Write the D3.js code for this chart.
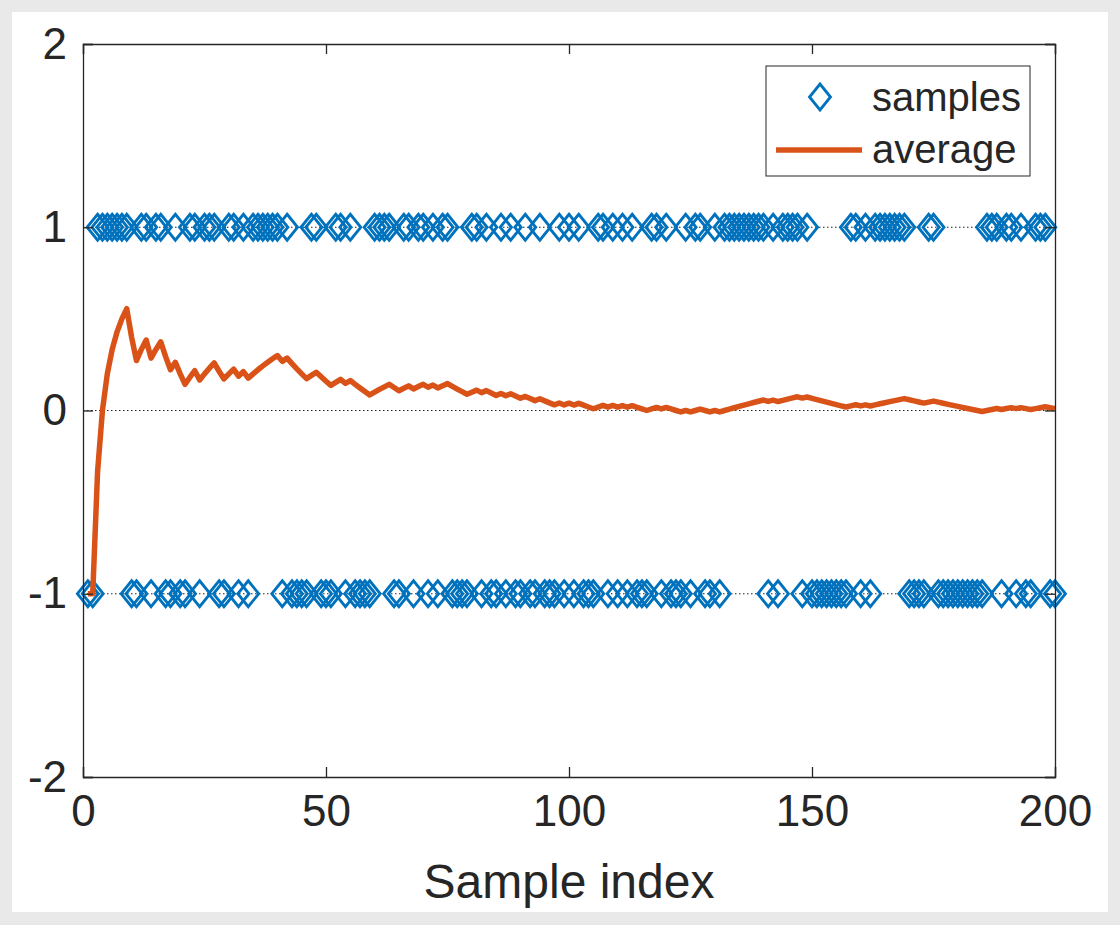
<html>
<head>
<script src="https://d3js.org/d3.v7.min.js"></script>
<style>
body { margin: 0; background: #e9e9e9; }
text { font-family: "Liberation Sans", Arial, sans-serif; fill: #262626; }
</style>
</head>
<body>
<svg width="1120" height="925"></svg>
<script>
// sample value (+1 / -1) for index 1..200
var samples = [
  -1,-1, 1, 1, 1, 1, 1, 1, 1,-1,   -1, 1, 1,-1, 1, 1,-1,-1, 1,-1,
  -1, 1, 1,-1, 1, 1, 1,-1,-1, 1,    1,-1, 1,-1, 1, 1, 1, 1, 1, 1,
  -1, 1,-1,-1,-1,-1, 1, 1,-1,-1,   -1, 1, 1,-1, 1,-1,-1,-1,-1, 1,
   1, 1, 1,-1,-1, 1, 1,-1, 1, 1,   -1, 1,-1, 1, 1,-1,-1,-1,-1, 1,
   1,-1, 1,-1,-1, 1,-1, 1,-1,-1,    1,-1,-1, 1,-1,-1,-1, 1,-1, 1,
  -1, 1,-1,-1,-1, 1, 1,-1, 1,-1,    1,-1, 1,-1,-1,-1, 1, 1,-1, 1,
  -1,-1,-1, 1,-1, 1, 1,-1,-1, 1,   -1, 1, 1, 1, 1, 1, 1, 1, 1, 1,
  -1, 1,-1, 1, 1, 1, 1,-1, 1,-1,   -1,-1,-1,-1,-1,-1,-1, 1, 1,-1,
   1,-1, 1, 1, 1, 1, 1, 1, 1,-1,   -1,-1,-1, 1, 1,-1,-1,-1,-1,-1,
  -1,-1,-1,-1,-1, 1, 1, 1,-1, 1,    1,-1, 1,-1,-1, 1, 1, 1,-1,-1
];
var xTicks = [0, 50, 100, 150, 200];
var yTicks = [-2, -1, 0, 1, 2];
var refLines = [-1, 0, 1];
var seriesNames = ["samples", "average"];

var blue = "#0072BD", orange = "#D95319", ink = "#262626";

var svg = d3.select("svg");
svg.append("rect").attr("x", 12).attr("y", 12).attr("width", 1096).attr("height", 900).attr("fill", "white");

var pLeft = 83, pRight = 1055, pTop = 44, pBottom = 777;
var x = d3.scaleLinear().domain([0, 200]).range([pLeft, pRight]);
var y = d3.scaleLinear().domain([-2, 2]).range([pBottom, pTop]);

// running mean of the samples
var sum = 0;
var pts = samples.map(function (s, i) { sum += s; return {i: i + 1, s: s, avg: sum / (i + 1)}; });

// dotted reference lines
svg.append("g").selectAll("line").data(refLines).enter().append("line")
  .attr("x1", pLeft).attr("x2", pRight)
  .attr("y1", function (d) { return y(d); }).attr("y2", function (d) { return y(d); })
  .attr("stroke", "#222").attr("stroke-width", 1).attr("stroke-dasharray", "1.5,2.5");

var diamond = function (cx, cy) {
  return "M" + cx + "," + (cy - 13) + "L" + (cx + 10.5) + "," + cy + "L" + cx + "," + (cy + 13) + "L" + (cx - 10.5) + "," + cy + "Z";
};

svg.append("g").selectAll("path").data(pts).enter().append("path")
  .attr("d", function (d) { return diamond(x(d.i), y(d.s)); })
  .attr("fill", "none").attr("stroke", blue).attr("stroke-width", 2.8);

var line = d3.line().x(function (d) { return x(d.i); }).y(function (d) { return y(d.avg); });
svg.append("path").datum(pts).attr("d", line)
  .attr("fill", "none").attr("stroke", orange).attr("stroke-width", 5.5).attr("stroke-linejoin", "round");

// axes box with inward ticks on all four sides
var tl = 10;
svg.append("g").attr("transform", "translate(0," + pBottom + ")")
  .call(d3.axisBottom(x).tickValues(xTicks).tickSize(-tl).tickPadding(18).tickFormat(d3.format("d")));
svg.append("g").attr("transform", "translate(0," + pTop + ")")
  .call(d3.axisTop(x).tickValues(xTicks).tickSize(-tl).tickFormat(""));
var yAxis = svg.append("g").attr("transform", "translate(" + pLeft + ",0)")
  .call(d3.axisLeft(y).tickValues(yTicks).tickSize(-tl).tickPadding(16).tickFormat(function (d) { return d < 0 ? "-" + Math.abs(d) : d; }));
svg.append("g").attr("transform", "translate(" + pRight + ",0)")
  .call(d3.axisRight(y).tickValues(yTicks).tickSize(-tl).tickFormat(""));
svg.selectAll(".domain").attr("stroke", ink).attr("stroke-width", 1.3);
svg.selectAll(".tick line").attr("stroke", ink).attr("stroke-width", 1.3);
svg.selectAll(".tick text").style("font-size", "44px").attr("fill", ink);

svg.append("text").attr("x", (pLeft + pRight) / 2).attr("y", 898)
  .attr("text-anchor", "middle").style("font-size", "48px").text("Sample index");

// legend
var lg = svg.append("g");
lg.append("rect").attr("x", 766).attr("y", 66).attr("width", 264).attr("height", 110)
  .attr("fill", "white").attr("stroke", ink).attr("stroke-width", 1);
lg.append("path").attr("d", diamond(820, 97)).attr("fill", "none").attr("stroke", blue).attr("stroke-width", 2.8);
lg.append("line").attr("x1", 776).attr("x2", 862).attr("y1", 150).attr("y2", 150)
  .attr("stroke", orange).attr("stroke-width", 5.5);
lg.selectAll("text").data(seriesNames).enter().append("text")
  .attr("x", 872).attr("y", function (d, i) { return 111 + i * 52; })
  .style("font-size", "40px").text(function (d) { return d; });
</script>
</body>
</html>
